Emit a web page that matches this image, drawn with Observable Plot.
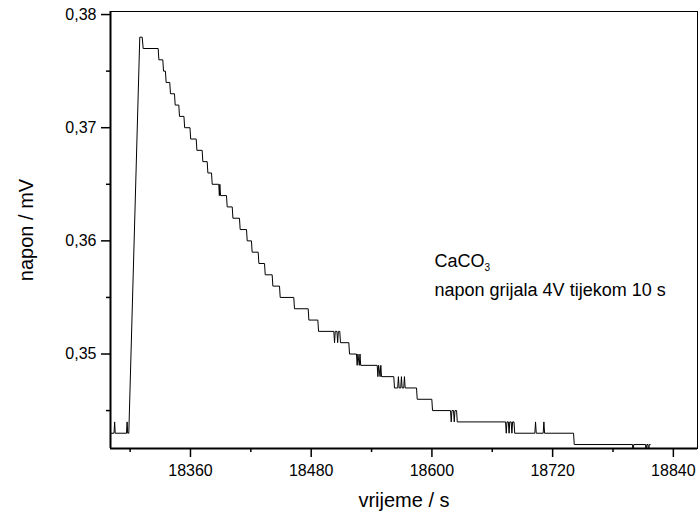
<!DOCTYPE html>
<html><head><meta charset="utf-8">
<script src="https://cdn.jsdelivr.net/npm/d3@7"></script>
<script src="https://cdn.jsdelivr.net/npm/@observablehq/plot@0.6"></script>
<style>body{margin:0;background:#fff} svg{display:block}</style>
</head><body><div id="chart"></div>
<script>
// time (s) and voltage (mV)
const time = [18281,18284,18284.6,18285.2,18296.4,18297,18297.6,18298.7,18309.6,18312,
  18313,18327.9,18328.6,18332.5,18333.2,18335.1,18335.8,18339.4,18340.1,18344.1,
  18344.8,18348.4,18349.1,18353.5,18354.2,18359.5,18360.2,18365.7,18366.4,18371.6,
  18372.3,18376.6,18377.3,18380.9,18381.6,18388.1,18388.7,18389.2,18389.9,18395.8,
  18396.5,18401.5,18402.2,18408.7,18409.4,18415.7,18416.4,18420.6,18421.3,18427.3,
  18428,18433.6,18434.3,18441.2,18441.9,18448.5,18449.2,18462.7,18463.4,18477,
  18477.7,18486.6,18487.3,18502.5,18503.2,18503.9,18505.6,18506.3,18507,18508.4,
  18509.1,18517.4,18518.1,18525,18525.7,18526.4,18527.8,18528.5,18529.2,18545.6,
  18546.3,18547,18548.5,18549.2,18549.9,18562.1,18562.8,18566,18566.7,18567.4,
  18569,18569.7,18570.4,18572,18572.7,18573.4,18584.7,18585.4,18599.9,18600.6,
  18618.5,18619.2,18619.9,18621.5,18622.2,18622.9,18624.5,18625.2,18673.2,18673.9,
  18674.6,18676,18676.7,18677.4,18678.8,18679.5,18680.2,18681.6,18682.3,18702.3,
  18703,18703.7,18710.6,18711.3,18712,18740.8,18741.5,18799.4,18800,18800.6,
  18812.4,18813,18813.6,18814.8,18815.4,18816,18817];
const napon = [0.343,0.343,0.344,0.343,0.343,0.344,0.343,0.343,0.378,0.378,
  0.377,0.377,0.376,0.376,0.375,0.375,0.374,0.374,0.373,0.373,
  0.372,0.372,0.371,0.371,0.370,0.370,0.369,0.369,0.368,0.368,
  0.367,0.367,0.366,0.366,0.365,0.365,0.364,0.365,0.364,0.364,
  0.363,0.363,0.362,0.362,0.361,0.361,0.360,0.360,0.359,0.359,
  0.358,0.358,0.357,0.357,0.356,0.356,0.355,0.355,0.354,0.354,
  0.353,0.353,0.352,0.352,0.351,0.352,0.352,0.351,0.352,0.352,
  0.351,0.351,0.350,0.350,0.349,0.350,0.349,0.350,0.349,0.349,
  0.348,0.349,0.348,0.349,0.348,0.348,0.347,0.347,0.348,0.347,
  0.347,0.348,0.347,0.347,0.348,0.347,0.347,0.346,0.346,0.345,
  0.345,0.344,0.345,0.345,0.344,0.345,0.345,0.344,0.344,0.343,
  0.344,0.344,0.343,0.344,0.344,0.343,0.344,0.344,0.343,0.343,
  0.344,0.343,0.343,0.344,0.343,0.343,0.342,0.342,0.341,0.342,
  0.342,0.341,0.342,0.342,0.341,0.342,0.342];

const xTicks = [18360, 18480, 18600, 18720, 18840];
const xMinorTicks = [18300, 18420, 18540, 18660, 18780];
const yTicks = [0.35, 0.36, 0.37, 0.38];
const yMinorTicks = [0.345, 0.355, 0.365, 0.375];
const xDomain = [18280.5, 18864];
const yDomain = [0.34165, 0.38027];
const xTitle = "vrijeme / s";
const yTitle = "napon / mV";
const noteSample = "CaCO";
const noteSub = "3";
const noteLine2 = "napon grijala 4V tijekom 10 s";
const noteX = 18602.6, noteY1 = 0.3582, noteY2 = 0.3556;

const points = time.map((t, i) => ({t, v: napon[i]}));
const fmtY = d => d3.format(".2f")(d).replace(".", ",");
const font = "'Liberation Sans', Arial, sans-serif";

const chart = Plot.plot({
  width: 700, height: 517,
  marginLeft: 110, marginRight: 3, marginTop: 11, marginBottom: 69,
  style: {fontFamily: font, background: "#fff", color: "#000", overflow: "visible"},
  x: {domain: xDomain},
  y: {domain: yDomain},
  marks: [
    Plot.frame({stroke: "#000", strokeWidth: 1}),
    Plot.line(points, {x: "t", y: "v", stroke: "#000", strokeWidth: 1, clip: true}),
    Plot.ruleX([xDomain[0]], {stroke: "#000", strokeWidth: 2}),
    Plot.ruleY([yDomain[0]], {stroke: "#000", strokeWidth: 2}),
    Plot.axisX({ticks: xTicks, tickSize: 9, tickPadding: 7, tickFormat: d => String(d), fontSize: 16, label: null, stroke: "#000", strokeWidth: 1.5}),
    Plot.axisX({ticks: xMinorTicks, tickSize: 4, tickFormat: () => "", label: null, stroke: "#000", strokeWidth: 1.5}),
    Plot.axisY({ticks: yTicks, tickSize: 9, tickPadding: 5, tickFormat: fmtY, fontSize: 16, label: null, stroke: "#000", strokeWidth: 1.5}),
    Plot.axisY({ticks: yMinorTicks, tickSize: 4, tickFormat: () => "", label: null, stroke: "#000", strokeWidth: 1.5}),
    Plot.text([xTitle], {frameAnchor: "bottom", textAnchor: "middle", lineAnchor: "middle", dy: 52, fontSize: 20, fill: "#000"}),
    Plot.text([yTitle], {frameAnchor: "left", textAnchor: "middle", lineAnchor: "middle", dx: -84, rotate: -90, fontSize: 20, fill: "#000"}),
    Plot.text([noteSample], {x: () => noteX, y: () => noteY1, textAnchor: "start", fontSize: 18, fill: "#000"}),
    Plot.text([noteSub], {x: () => noteX, y: () => noteY1, dx: 50, dy: 7, textAnchor: "start", fontSize: 10, fill: "#000"}),
    Plot.text([noteLine2], {x: () => noteX, y: () => noteY2, textAnchor: "start", fontSize: 18, fill: "#000"})
  ]
});
document.getElementById("chart").appendChild(chart);
</script>
</body></html>
